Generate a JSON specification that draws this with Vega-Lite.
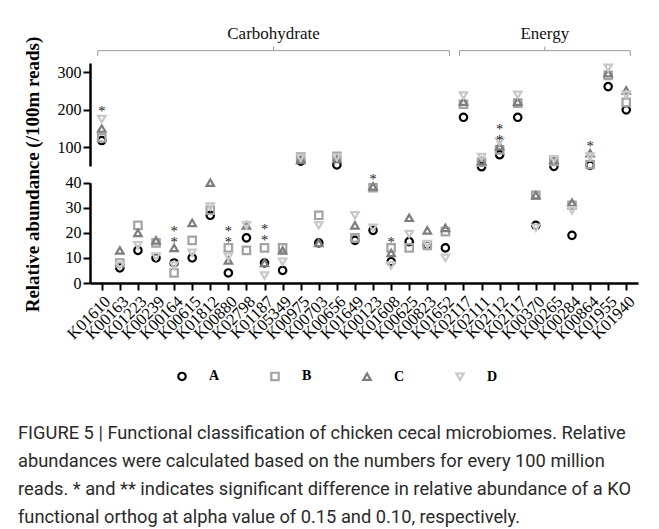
{
  "$schema": "https://vega.github.io/schema/vega-lite/v6.json",
  "width": 548,
  "height": 220,
  "autosize": {"type": "none"},
  "padding": {"left": 90, "top": 63, "right": 21, "bottom": 246},
  "background": "white",
  "config": {"view": {"stroke": null}, "font": "Liberation Serif"},
  "title": {
    "text": [
      "FIGURE 5 | Functional classification of chicken cecal microbiomes. Relative",
      "abundances were calculated based on the numbers for every 100 million",
      "reads. * and ** indicates significant difference in relative abundance of a KO",
      "functional orthog at alpha value of 0.15 and 0.10, respectively."
    ],
    "orient": "bottom",
    "anchor": "start",
    "frame": "group",
    "font": "Roboto",
    "fontSize": 18.3,
    "fontWeight": "normal",
    "color": "#2a2a2a",
    "lineHeight": 28,
    "offset": 40,
    "dx": -72
  },
  "datasets": {
    "points": [
      {"ko": "K01610", "g": "A", "v": 118}, {"ko": "K01610", "g": "B", "v": 125}, {"ko": "K01610", "g": "C", "v": 150}, {"ko": "K01610", "g": "D", "v": 175},
      {"ko": "K00163", "g": "A", "v": 6}, {"ko": "K00163", "g": "B", "v": 8}, {"ko": "K00163", "g": "C", "v": 13}, {"ko": "K00163", "g": "D", "v": 7},
      {"ko": "K01223", "g": "A", "v": 13}, {"ko": "K01223", "g": "B", "v": 23}, {"ko": "K01223", "g": "C", "v": 20}, {"ko": "K01223", "g": "D", "v": 15},
      {"ko": "K00239", "g": "A", "v": 10}, {"ko": "K00239", "g": "B", "v": 16}, {"ko": "K00239", "g": "C", "v": 17}, {"ko": "K00239", "g": "D", "v": 10.5},
      {"ko": "K00164", "g": "A", "v": 8}, {"ko": "K00164", "g": "B", "v": 4}, {"ko": "K00164", "g": "C", "v": 14}, {"ko": "K00164", "g": "D", "v": 7},
      {"ko": "K00615", "g": "A", "v": 10}, {"ko": "K00615", "g": "B", "v": 17}, {"ko": "K00615", "g": "C", "v": 24}, {"ko": "K00615", "g": "D", "v": 12},
      {"ko": "K01812", "g": "A", "v": 27}, {"ko": "K01812", "g": "B", "v": 29}, {"ko": "K01812", "g": "C", "v": 40}, {"ko": "K01812", "g": "D", "v": 30.5},
      {"ko": "K00880", "g": "A", "v": 4}, {"ko": "K00880", "g": "B", "v": 14}, {"ko": "K00880", "g": "C", "v": 9}, {"ko": "K00880", "g": "D", "v": 10.5},
      {"ko": "K02798", "g": "A", "v": 18}, {"ko": "K02798", "g": "B", "v": 13}, {"ko": "K02798", "g": "C", "v": 23}, {"ko": "K02798", "g": "D", "v": 23},
      {"ko": "K01187", "g": "A", "v": 8}, {"ko": "K01187", "g": "B", "v": 14}, {"ko": "K01187", "g": "C", "v": 8}, {"ko": "K01187", "g": "D", "v": 3},
      {"ko": "K05349", "g": "A", "v": 5}, {"ko": "K05349", "g": "B", "v": 14}, {"ko": "K05349", "g": "C", "v": 13}, {"ko": "K05349", "g": "D", "v": 8.5},
      {"ko": "K00975", "g": "A", "v": 63}, {"ko": "K00975", "g": "B", "v": 74}, {"ko": "K00975", "g": "C", "v": 66}, {"ko": "K00975", "g": "D", "v": 72},
      {"ko": "K00703", "g": "A", "v": 16}, {"ko": "K00703", "g": "B", "v": 27}, {"ko": "K00703", "g": "C", "v": 16}, {"ko": "K00703", "g": "D", "v": 23},
      {"ko": "K00656", "g": "A", "v": 53}, {"ko": "K00656", "g": "B", "v": 76}, {"ko": "K00656", "g": "C", "v": 68}, {"ko": "K00656", "g": "D", "v": 73},
      {"ko": "K01649", "g": "A", "v": 17}, {"ko": "K01649", "g": "B", "v": 18}, {"ko": "K01649", "g": "C", "v": 23}, {"ko": "K01649", "g": "D", "v": 27},
      {"ko": "K00123", "g": "A", "v": 21}, {"ko": "K00123", "g": "B", "v": 38}, {"ko": "K00123", "g": "C", "v": 38.5}, {"ko": "K00123", "g": "D", "v": 22},
      {"ko": "K01608", "g": "A", "v": 8.5}, {"ko": "K01608", "g": "B", "v": 14}, {"ko": "K01608", "g": "C", "v": 12}, {"ko": "K01608", "g": "D", "v": 7},
      {"ko": "K00625", "g": "A", "v": 16.5}, {"ko": "K00625", "g": "B", "v": 14}, {"ko": "K00625", "g": "C", "v": 26}, {"ko": "K00625", "g": "D", "v": 19.5},
      {"ko": "K00823", "g": "A", "v": 15}, {"ko": "K00823", "g": "B", "v": 15}, {"ko": "K00823", "g": "C", "v": 21}, {"ko": "K00823", "g": "D", "v": 15.5},
      {"ko": "K01652", "g": "A", "v": 14}, {"ko": "K01652", "g": "B", "v": 20.5}, {"ko": "K01652", "g": "C", "v": 22}, {"ko": "K01652", "g": "D", "v": 10},
      {"ko": "K02117", "g": "A", "v": 180}, {"ko": "K02117", "g": "B", "v": 215}, {"ko": "K02117", "g": "C", "v": 222}, {"ko": "K02117", "g": "D", "v": 238},
      {"ko": "K02111", "g": "A", "v": 48}, {"ko": "K02111", "g": "B", "v": 60}, {"ko": "K02111", "g": "C", "v": 63}, {"ko": "K02111", "g": "D", "v": 74},
      {"ko": "K02112", "g": "A", "v": 80}, {"ko": "K02112", "g": "B", "v": 93}, {"ko": "K02112", "g": "C", "v": 103}, {"ko": "K02112", "g": "D", "v": 115},
      {"ko": "K02117 ", "g": "A", "v": 180}, {"ko": "K02117 ", "g": "B", "v": 218}, {"ko": "K02117 ", "g": "C", "v": 222}, {"ko": "K02117 ", "g": "D", "v": 240},
      {"ko": "K00370", "g": "A", "v": 23}, {"ko": "K00370", "g": "B", "v": 35}, {"ko": "K00370", "g": "C", "v": 35}, {"ko": "K00370", "g": "D", "v": 22},
      {"ko": "K00265", "g": "A", "v": 49}, {"ko": "K00265", "g": "B", "v": 62}, {"ko": "K00265", "g": "C", "v": 66}, {"ko": "K00265", "g": "D", "v": 68},
      {"ko": "K00284", "g": "A", "v": 19}, {"ko": "K00284", "g": "B", "v": 31}, {"ko": "K00284", "g": "C", "v": 32}, {"ko": "K00284", "g": "D", "v": 29},
      {"ko": "K00864", "g": "A", "v": 52}, {"ko": "K00864", "g": "B", "v": 54}, {"ko": "K00864", "g": "C", "v": 84}, {"ko": "K00864", "g": "D", "v": 75},
      {"ko": "K01955", "g": "A", "v": 262}, {"ko": "K01955", "g": "B", "v": 292}, {"ko": "K01955", "g": "C", "v": 298}, {"ko": "K01955", "g": "D", "v": 312},
      {"ko": "K01940", "g": "A", "v": 200}, {"ko": "K01940", "g": "B", "v": 220}, {"ko": "K01940", "g": "C", "v": 252}, {"ko": "K01940", "g": "D", "v": 240}
    ],
    "stars": [
      {"ko": "K01610", "v": 205, "sig": "*"},
      {"ko": "K00164", "v": 21.8, "sig": "*\n*"},
      {"ko": "K00880", "v": 21.8, "sig": "*\n*"},
      {"ko": "K01187", "v": 22.6, "sig": "*\n*"},
      {"ko": "K00123", "v": 42.7, "sig": "*"},
      {"ko": "K01608", "v": 17.5, "sig": "*"},
      {"ko": "K02112", "v": 158, "sig": "*\n*"},
      {"ko": "K00864", "v": 111, "sig": "*"}
    ],
    "brackets": [
      {"label": "Carbohydrate", "start": "K01610", "end": "K01652", "mid": "K01187"},
      {"label": "Energy", "start": "K02117", "end": "K01940", "mid": "K00370"}
    ]
  },
  "encoding": {
    "x": {
      "field": "ko",
      "type": "nominal",
      "title": null,
      "scale": {
        "type": "point",
        "padding": 0.65,
        "domain": ["K01610", "K00163", "K01223", "K00239", "K00164", "K00615", "K01812", "K00880", "K02798", "K01187", "K05349", "K00975", "K00703", "K00656", "K01649", "K00123", "K01608", "K00625", "K00823", "K01652", "K02117", "K02111", "K02112", "K02117 ", "K00370", "K00265", "K00284", "K00864", "K01955", "K01940"]
      },
      "axis": {
        "title": null,
        "labelAngle": -45,
        "labelFont": "Liberation Serif",
        "labelFontSize": 16.5,
        "labelColor": "black",
        "labelPadding": 3,
        "labelExpr": "trim(datum.label)",
        "domainColor": "black",
        "domainWidth": 2.5,
        "tickColor": "black",
        "tickWidth": 2,
        "tickSize": 7,
        "grid": false
      }
    }
  },
  "resolve": {"scale": {"y": "independent"}, "axis": {"y": "independent"}},
  "layer": [
    {
      "layer": [
        {
          "data": {"name": "points"},
          "transform": [{"filter": "datum.v > 45"}],
          "mark": {"type": "point", "filled": false, "strokeWidth": 2.2, "size": 55, "opacity": 1},
          "encoding": {
            "y": {
              "field": "v",
              "type": "quantitative",
              "title": null,
              "scale": {"domain": [50, 325], "range": [103, 0], "nice": false, "zero": false},
              "axis": {
                "orient": "left",
                "title": null,
                "values": [100, 200, 300],
                "labelFont": "Liberation Serif",
                "labelFontSize": 16,
                "labelColor": "black",
                "labelPadding": 2,
                "domainColor": "black",
                "domainWidth": 2.5,
                "tickColor": "black",
                "tickWidth": 2,
                "tickSize": 7,
                "grid": false
              }
            },
            "shape": {
              "field": "g",
              "type": "nominal",
              "scale": {"domain": ["A", "B", "C", "D"], "range": ["circle", "square", "triangle-up", "triangle-down"]},
              "legend": {"title": null, "orient": "none", "legendX": 85, "legendY": 306, "direction": "horizontal", "columns": 4, "columnPadding": 46, "labelOffset": 20, "labelFont": "Liberation Serif", "labelFontWeight": "bold", "labelFontSize": 14, "labelColor": "black", "symbolSize": 55, "symbolStrokeWidth": 2.2, "padding": 0}
            },
            "color": {
              "field": "g",
              "type": "nominal",
              "scale": {"domain": ["A", "B", "C", "D"], "range": ["#000000", "#a3a3a3", "#7d7d7d", "#c8c8c8"]},
              "legend": {"title": null, "orient": "none", "legendX": 85, "legendY": 306, "direction": "horizontal", "columns": 4, "columnPadding": 46, "labelOffset": 20, "labelFont": "Liberation Serif", "labelFontWeight": "bold", "labelFontSize": 14, "labelColor": "black", "symbolSize": 55, "symbolStrokeWidth": 2.2, "padding": 0}
            }
          }
        },
        {
          "data": {"name": "stars"},
          "transform": [{"filter": "datum.v > 45"}],
          "mark": {"type": "text", "font": "Liberation Serif", "fontSize": 14.5, "baseline": "middle", "lineBreak": "\n", "lineHeight": 11, "dy": 4, "fill": "#222222"},
          "encoding": {
            "y": {"field": "v", "type": "quantitative", "title": null},
            "text": {"field": "sig"}
          }
        },
        {
          "data": {"name": "brackets"},
          "mark": {"type": "rule", "color": "#9a9a9a", "strokeWidth": 1, "xOffset": -4, "x2Offset": 4},
          "encoding": {
            "x": {"field": "start", "type": "nominal", "title": null},
            "x2": {"field": "end"},
            "y": {"datum": 358, "type": "quantitative", "title": null}
          }
        },
        {
          "data": {"name": "brackets"},
          "mark": {"type": "rule", "color": "#9a9a9a", "strokeWidth": 1, "xOffset": -4},
          "encoding": {
            "x": {"field": "start", "type": "nominal", "title": null},
            "y": {"datum": 358, "type": "quantitative", "title": null},
            "y2": {"datum": 344}
          }
        },
        {
          "data": {"name": "brackets"},
          "mark": {"type": "rule", "color": "#9a9a9a", "strokeWidth": 1, "xOffset": 4},
          "encoding": {
            "x": {"field": "end", "type": "nominal", "title": null},
            "y": {"datum": 358, "type": "quantitative", "title": null},
            "y2": {"datum": 344}
          }
        },
        {
          "data": {"name": "brackets"},
          "mark": {"type": "rule", "color": "#9a9a9a", "strokeWidth": 1, "xOffset": 9},
          "encoding": {
            "x": {"field": "mid", "type": "nominal", "title": null},
            "y": {"datum": 358, "type": "quantitative", "title": null},
            "y2": {"datum": 369}
          }
        },
        {
          "data": {"name": "brackets"},
          "mark": {"type": "text", "font": "Liberation Serif", "fontSize": 17, "fill": "#111111", "baseline": "middle", "xOffset": 9},
          "encoding": {
            "x": {"field": "mid", "type": "nominal", "title": null},
            "y": {"datum": 402, "type": "quantitative", "title": null},
            "text": {"field": "label"}
          }
        }
      ]
    },
    {
      "layer": [
        {
          "data": {"name": "points"},
          "transform": [{"filter": "datum.v <= 45"}],
          "mark": {"type": "point", "filled": false, "strokeWidth": 2.2, "size": 55, "opacity": 1},
          "encoding": {
            "y": {
              "field": "v",
              "type": "quantitative",
              "title": "Relative abundance (/100m reads)",
              "scale": {"domain": [0, 40], "range": [220, 119.7], "nice": false, "zero": false},
              "axis": {
                "orient": "left",
                "title": "Relative abundance (/100m reads)",
                "titleFont": "Liberation Serif",
                "titleFontSize": 19,
                "titleFontWeight": "bold",
                "titleColor": "black",
                "titleX": -48,
                "titleY": 111,
                "values": [0, 10, 20, 30, 40],
                "labelFont": "Liberation Serif",
                "labelFontSize": 16,
                "labelColor": "black",
                "labelPadding": 2,
                "domainColor": "black",
                "domainWidth": 2.5,
                "tickColor": "black",
                "tickWidth": 2,
                "tickSize": 7,
                "grid": false
              }
            },
            "shape": {"field": "g", "type": "nominal"},
            "color": {"field": "g", "type": "nominal"}
          }
        },
        {
          "data": {"name": "stars"},
          "transform": [{"filter": "datum.v <= 45"}],
          "mark": {"type": "text", "font": "Liberation Serif", "fontSize": 14.5, "baseline": "middle", "lineBreak": "\n", "lineHeight": 11, "dy": 4, "fill": "#222222"},
          "encoding": {
            "y": {"field": "v", "type": "quantitative", "title": "Relative abundance (/100m reads)"},
            "text": {"field": "sig"}
          }
        }
      ]
    }
  ]
}
